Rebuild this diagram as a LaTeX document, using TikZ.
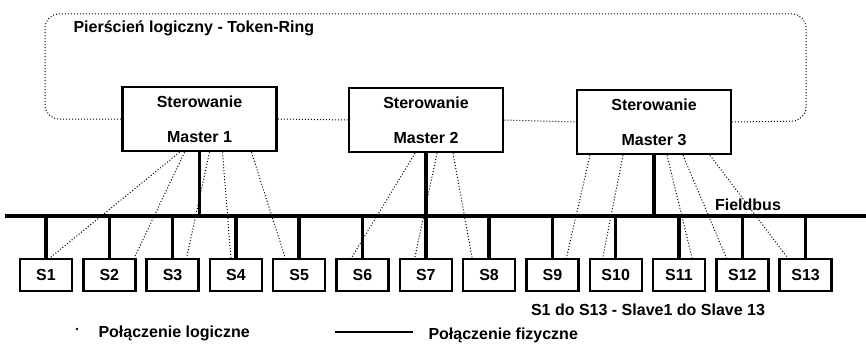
\documentclass[tikz,border=0pt]{standalone}
\usepackage{fontspec}
\setmainfont{Liberation Sans}
\usepackage{tikz}

\begin{document}
\begin{tikzpicture}[x=1pt,y=-1pt,every node/.style={font=\fontsize{16}{19}\selectfont\bfseries},
  master/.style={draw,line width=2.6pt,minimum width=154pt,minimum height=64pt,align=center},
  slave/.style={draw,line width=2.4pt,minimum width=52pt,minimum height=32pt,inner sep=0pt},
  phys/.style={line width=3.5pt},
  logic/.style={dotted,line width=1pt}]
\useasboundingbox (0,0) rectangle (866,350);
\coordinate (busl) at (5,216);\coordinate (busr) at (866,216);
\draw[phys] (busl)--(busr);
\node[master] (m1) at (199.5,119) {Sterowanie\\[16pt]Master 1};
\node[master] (m2) at (426,120) {Sterowanie\\[16pt]Master 2};
\node[master] (m3) at (654,122) {Sterowanie\\[16pt]Master 3};
\foreach \m in {m1,m2,m3}{\draw[phys] (\m.south)--(\m.south |- busl);}
\foreach \i in {1,...,13}{
  \node[slave] (s\i) at ({46+63.3*(\i-1)},275) {S\i};
  \draw[phys] (s\i.north)--(s\i.north |- busl);}
\draw[logic,rounded corners=14pt] (m1.west) -| (45,14) -| (806,121) -- (m3.east);
\draw[logic] (m1.east)--(m2.west) (m2.east)--(m3.west);
\node[anchor=west] (ring) at (70,28) {Pierścień logiczny - Token-Ring};
\foreach \a/\b/\c/\d in {m1/-20/s1/4,m1/-15/s2/25,m1/10/s3/14,m1/23/s4/-5,m1/52/s5/-14,
  m2/-11/s6/-11,m2/11/s7/-11,m2/27/s8/-17,
  m3/-64/s9/14,m3/-31/s10/-13,m3/13/s11/13,m3/29/s12/-16,m3/56/s13/-18}
  {\draw[logic] ([xshift=\b pt]\a.south)--([xshift=\d pt]\c.north);}
\node (fb) at (748,205) {Fieldbus};
\node (sl) at (648,310) {S1 do S13 - Slave1 do Slave 13};
\fill (77,329) circle (1.3pt);
\node[anchor=west] (lgl) at (95,333) {Połączenie logiczne};
\coordinate (lf1) at (335,332);\coordinate (lf2) at (413,332);
\draw[line width=2.5pt] (lf1)--(lf2);
\node[anchor=west] (lgf) at (425,335) {Połączenie fizyczne};
\end{tikzpicture}
\end{document}
